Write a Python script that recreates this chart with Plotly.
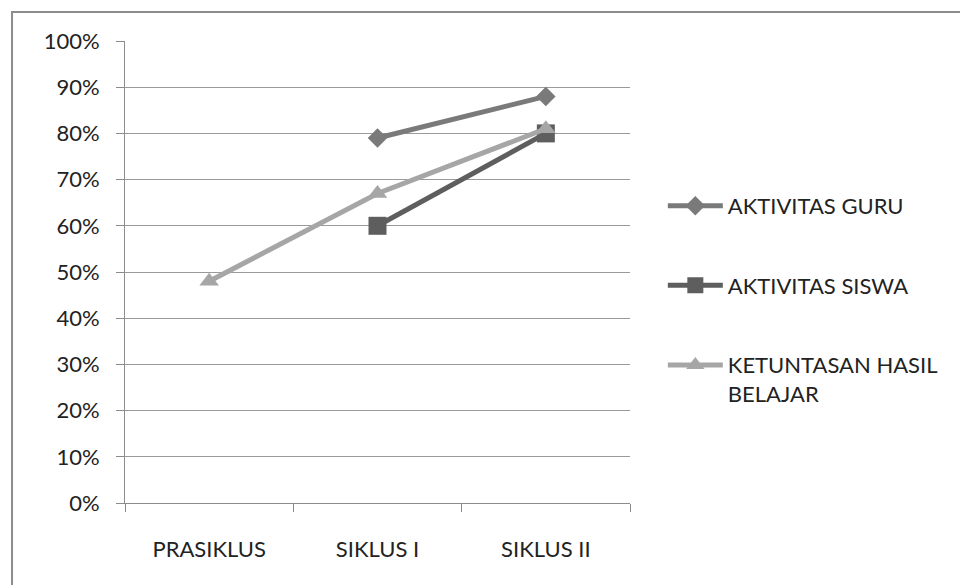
import plotly.graph_objects as go

categories = ["PRASIKLUS", "SIKLUS I", "SIKLUS II"]
aktivitas_guru = [None, 79, 88]
aktivitas_siswa = [None, 60, 80]
ketuntasan = [48, 67, 81]
y_ticks = [0, 10, 20, 30, 40, 50, 60, 70, 80, 90, 100]

FONT = "Lato"
xpos = list(range(len(categories)))

fig = go.Figure()

series = [
    ("AKTIVITAS GURU", aktivitas_guru, "#7a7a7a", "diamond", 15),
    ("AKTIVITAS SISWA", aktivitas_siswa, "#5e5e5e", "square", 18),
    ("KETUNTASAN HASIL<br>BELAJAR", ketuntasan, "#a6a6a6", "triangle-up", 17),
]
for i, (name, vals, color, sym, size) in enumerate(series):
    fig.add_trace(go.Scatter(
        x=xpos, y=vals, name=name, mode="lines+markers",
        line=dict(color=color, width=5),
        marker=dict(symbol=sym, size=size, color=color),
        legendgroup=f"g{i}", connectgaps=False,
    ))

# Outer chart frame
fig.add_shape(type="rect", xref="paper", yref="paper",
              x0=-0.2237, x1=1.8, y0=-0.3, y1=1.0628,
              line=dict(color="#8c8c8c", width=2), fillcolor="rgba(0,0,0,0)")

fig.update_layout(
    width=960, height=585,
    margin=dict(l=125, r=330, t=41, b=82),
    paper_bgcolor="white", plot_bgcolor="white",
    font=dict(family=FONT, size=22, color="#222222"),
    showlegend=True,
    legend=dict(x=1.065, y=0.6885, xanchor="left", yanchor="top",
                tracegroupgap=48, itemwidth=55, valign="top",
                font=dict(family=FONT, size=22, color="#222222"),
                bgcolor="rgba(0,0,0,0)"),
    xaxis=dict(
        range=[-0.5, 2.5], tickvals=xpos, ticktext=categories,
        ticks="", showgrid=False, zeroline=False,
        showline=True, linecolor="#8c8c8c", linewidth=1,
        ticklabelstandoff=27,
        minor=dict(tick0=0.5, dtick=1, ticks="outside", ticklen=8,
                   tickcolor="#8c8c8c", showgrid=False),
        fixedrange=True,
    ),
    yaxis=dict(
        range=[0, 100], tickvals=y_ticks,
        ticktext=[f"{v}%" for v in y_ticks],
        ticks="outside", ticklen=8, tickcolor="#8c8c8c",
        showgrid=True, gridcolor="#9a9a9a", gridwidth=1,
        zeroline=False, showline=True, linecolor="#8c8c8c", linewidth=1,
        ticklabelstandoff=12,
        fixedrange=True,
    ),
)

fig.write_html("out.html")
